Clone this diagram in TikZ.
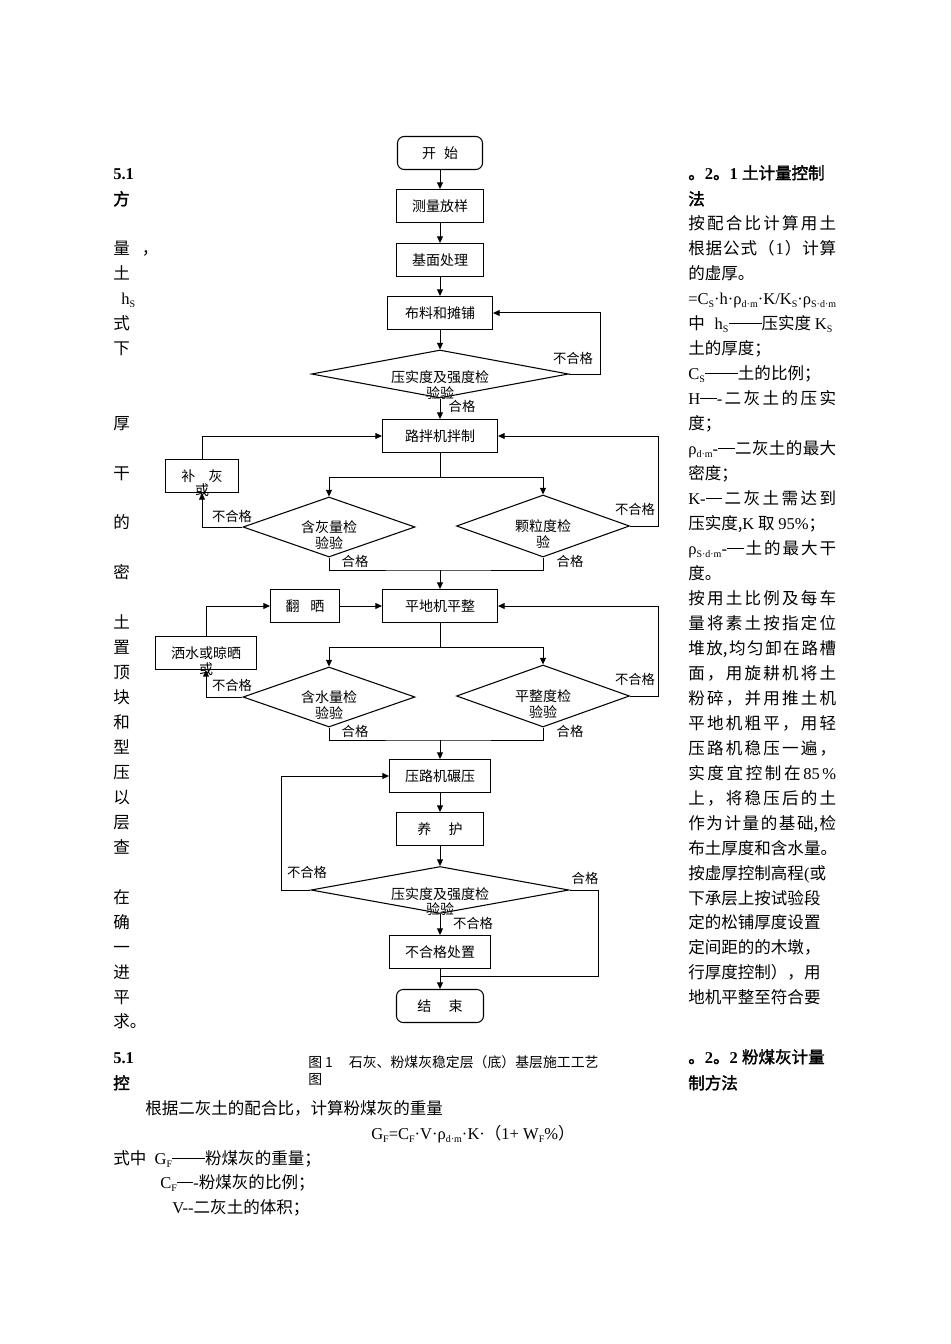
\documentclass[tikz,border=0pt]{standalone}
\usepackage{fontspec}
\setmainfont{Noto Sans CJK SC}
\newfontfamily\lat{Liberation Serif}
\newfontfamily\cjkb{Noto Sans CJK SC}[FakeBold=2]
\usetikzlibrary{arrows.meta,shapes.geometric,positioning}

\newcommand\pxu{0.75pt}
\newcommand\body{\fontsize{12.4}{15}\selectfont}
\newcommand\flw{\fontsize{10.5}{11.6}\selectfont}
\newcommand\lbl{\fontsize{10}{11}\selectfont}
\newcommand\capf{\fontsize{10.4}{11}\selectfont}
\newcommand\sbs[1]{\raisebox{-0.4ex}{\lat\fontsize{7.5}{8}\selectfont #1}}
\newcommand\La[1]{{\lat #1}}
\newcommand\pct{{\lat\%}}
\newcommand\emd{\raisebox{0.32em}{\rule{1em}{0.55pt}}}
\def\spr#1#2\relax{#1\if\relax\detokenize{#2}\relax\else\hfill\spr#2\relax\fi}
\newcommand\spread[1]{\makebox[111pt][s]{\spr#1\relax}}

\begin{document}
\begin{tikzpicture}[x=0.75pt, y=-0.75pt,
	box/.style={draw, line width=0.8pt, minimum height=33*\pxu, inner sep=1pt, font=\flw},
	term/.style={box, rounded corners=5pt},
	chk/.style={diamond, draw, line width=0.8pt, inner sep=0pt},
	chktext/.style={font=\flw, align=center, inner sep=0pt},
	arr/.style={line width=0.75pt, -{Triangle[length=5pt,width=4.5pt]}},
	ln/.style={line width=0.75pt},
	tag/.style={font=\lbl, inner sep=0pt},
	txt/.style={anchor=base west, yshift=-4.6pt, inner sep=0pt, font=\body}]

	\useasboundingbox (0,0) rectangle (950,1344);

	\node[term, minimum width=85*\pxu] (start) at (440,153) {开\hspace{6pt}始};
	\node[box, minimum width=87*\pxu] (survey) at (440,206) {测量放样};
	\node[box, minimum width=87*\pxu] (base) at (440,260) {基面处理};
	\node[box, minimum width=105*\pxu] (spread) at (440,313) {布料和摊铺};
	\node[chk, minimum width=257*\pxu, minimum height=48*\pxu,
		label={[chktext, name=chk1t, yshift=-8.2pt]center:{压实度及强度检\\验验}}] (chk1) at (440,374) {};

	\node[box, minimum width=115*\pxu] (mix) at (440,436) {路拌机拌制};
	\node[chk, minimum width=172*\pxu, minimum height=60*\pxu,
		label={[chktext, name=asht, yshift=-6pt]center:{含灰量检\\验验}}] (ash) at (329,527) {};
	\node[chk, minimum width=173*\pxu, minimum height=62*\pxu,
		label={[chktext, name=graint, yshift=-6pt]center:{颗粒度检\\验}}] (grain) at (543,526) {};
	\node[box, minimum width=73*\pxu,
		label={[chktext, name=buhuit, yshift=-11pt]center:或}] (buhui) at (202,476) {补\hspace{10pt}灰};

	\node[box, minimum width=115*\pxu] (level) at (440,606) {平地机平整};
	\node[box, minimum width=69*\pxu] (fanshai) at (305,606) {翻\hspace{8pt}晒};
	\node[box, minimum width=101*\pxu,
		label={[chktext, name=sashuit, yshift=-12pt]center:或}] (sashui) at (206,653) {洒水或晾晒};
	\node[chk, minimum width=172*\pxu, minimum height=60*\pxu,
		label={[chktext, name=watert, yshift=-6pt]center:{含水量检\\验验}}] (water) at (329,697) {};
	\node[chk, minimum width=173*\pxu, minimum height=62*\pxu,
		label={[chktext, name=flatt, yshift=-6pt]center:{平整度检\\验验}}] (flat) at (543,696) {};

	\node[box, minimum width=101*\pxu] (roll) at (440,776) {压路机碾压};
	\node[box, minimum width=87*\pxu] (cure) at (440,829) {养\hspace{13pt}护};
	\node[chk, minimum width=258*\pxu, minimum height=47*\pxu,
		label={[chktext, name=chk2t, yshift=-8.6pt]center:{压实度及强度检\\验验}}] (chk2) at (440,890) {};
	\node[box, minimum width=101*\pxu] (fail) at (440,952) {不合格处置};
	\node[term, minimum width=87*\pxu] (finish) at (440,1006) {结\hspace{13pt}束};

	\coordinate (j1) at (440,477);
	\coordinate (j2) at (440,570);
	\coordinate (j3) at (440,647);
	\coordinate (j4) at (440,740);
	\coordinate (j5) at (440,976);

	\draw[arr] (start) -- (survey);
	\draw[arr] (survey) -- (base);
	\draw[arr] (base) -- (spread);
	\draw[arr] (spread) -- (chk1);
	\draw[arr] (chk1.east) -- ++(31,0) |- (spread.east);
	\draw[arr] (chk1) -- (mix);
	\draw[ln] (mix) -- (j1);
	\draw[arr] (j1) -| (ash.north);
	\draw[arr] (j1) -| (grain.north);
	\draw[arr] (ash.west) -| (buhui.south);
	\draw[arr] (buhui.north) |- (mix.west);
	\draw[arr] (grain.east) -- ++(28,0) |- (mix.east);
	\draw[ln] (ash.south) |- (j2) -| (grain.south);
	\draw[arr] (j2) -- (level);

	\draw[ln] (level) -- (j3);
	\draw[arr] (j3) -| (water.north);
	\draw[arr] (j3) -| (flat.north);
	\draw[arr] (water.west) -| (sashui.south);
	\draw[arr] (sashui.north) |- (fanshai.west);
	\draw[arr] (fanshai) -- (level);
	\draw[arr] (flat.east) -- ++(28,0) |- (level.east);
	\draw[ln] (water.south) |- (j4) -| (flat.south);
	\draw[arr] (j4) -- (roll);

	\draw[arr] (roll) -- (cure);
	\draw[arr] (cure) -- (chk2);
	\draw[arr] (chk2.west) -- ++(-29,0) |- (roll.west);
	\draw[arr] (chk2) -- (fail);
	\draw[ln] (chk2.east) -- ++(29,0) |- (j5);
	\draw[arr] (fail) -- (finish);

	\foreach \x/\y/\t [count=\i] in {573/358/不合格, 462/406/合格, 232/516/不合格, 635/509/不合格,
		355/561/合格, 570/561/合格, 232/685/不合格, 635/679/不合格, 355/731/合格, 570/731/合格,
		307/872/不合格, 585/878/合格, 473/923/不合格}
		\node[tag] (tag\i) at (\x,\y) {\t};

	\node[txt] (lh1) at (113,173) {\lat\bfseries 5.1};
	\node[txt] (lh2) at (113,199) {\cjkb 方};
	\foreach \y/\c in {248/{量\hspace{9pt}，}, 273/土, 298/{\hspace{6pt}{\lat h}\sbs{S}}, 323/式, 348/下,
		423/厚, 473/干, 522/的, 572/密, 622/土, 647/置, 672/顶, 697/块, 722/和, 747/型, 772/压,
		797/以, 822/层, 847/查, 897/在, 922/确, 947/一, 972/进, 997/平, 1021/求。}
		\node[txt] (l\y) at (113,\y) {\c};
	\node[txt] (lh3) at (113,1057) {\lat\bfseries 5.1};
	\node[txt] (lh4) at (113,1083) {\cjkb 控};

	\node[txt] (r1) at (688,173) {{\cjkb 。}{\lat\bfseries 2}{\cjkb 。}{\lat\bfseries 1 }{\cjkb 土计量控制}};
	\node[txt] (r2) at (688,199) {\cjkb 法};
	\node[txt] (r3) at (688,223) {\spread{按配合比计算用土}};
	\node[txt] (r4) at (688,248) {\spread{根据公式（{\La{1}}）计算}};
	\node[txt] (r5) at (688,273) {的虚厚。};
	\node[txt] (r6) at (688,298) {{\lat =C}\sbs{S}{\lat ·h·ρ}\sbs{d·m}{\lat ·K/K}\sbs{S}{\lat ·ρ}\sbs{S·d·m}};
	\node[txt] (r7) at (688,323) {中\hspace{0.6em}{\lat h}\sbs{S}\emd\emd 压实度 {\lat K}\sbs{S}};
	\node[txt] (r8) at (688,348) {土的厚度；};
	\node[txt] (r9) at (688,373) {{\lat C}\sbs{S}\emd\emd 土的比例；};
	\node[txt] (r10) at (688,398) {\spread{{\La{H}\emd\La{-}}二灰土的压实}};
	\node[txt] (r11) at (688,423) {度；};
	\node[txt] (r12) at (688,448) {\spread{{\La{ρ}\sbs{d·m}\La{-}\emd}二灰土的最大}};
	\node[txt] (r13) at (688,473) {密度；};
	\node[txt] (r14) at (688,498) {\spread{{\La{K-}\emd}二灰土需达到}};
	\node[txt] (r15) at (688,523) {压实度,{\lat K} 取 {\lat 95\%}；};
	\node[txt] (r16) at (688,548) {\spread{{\La{ρ}\sbs{S·d·m}\La{-}\emd}土的最大干}};
	\node[txt] (r17) at (688,573) {度。};
	\node[txt] (r18) at (688,598) {\spread{按用土比例及每车}};
	\node[txt] (r19) at (688,623) {\spread{量将素土按指定位}};
	\node[txt] (r20) at (688,648) {\spread{堆{放,}均匀卸在路槽}};
	\node[txt] (r21) at (688,673) {\spread{面，用旋耕机将土}};
	\node[txt] (r22) at (688,698) {\spread{粉碎，并用推土机}};
	\node[txt] (r23) at (688,723) {\spread{平地机粗平，用轻}};
	\node[txt] (r24) at (688,748) {\spread{压路机稳压一遍，}};
	\node[txt] (r25) at (688,773) {\spread{实度宜控制在{\La{85}}\pct}};
	\node[txt] (r26) at (688,798) {\spread{上，将稳压后的土}};
	\node[txt] (r27) at (688,823) {\spread{作为计量的基{础,}检}};
	\node[txt] (r28) at (688,848) {布土厚度和含水量。};
	\node[txt] (r29) at (688,873) {按虚厚控制高程{\lat (}或};
	\node[txt] (r30) at (688,898) {下承层上按试验段};
	\node[txt] (r31) at (688,922) {定的松铺厚度设置};
	\node[txt] (r32) at (688,947) {定间距的的木墩，};
	\node[txt] (r33) at (688,972) {行厚度控制），用};
	\node[txt] (r34) at (688,997) {地机平整至符合要};
	\node[txt] (r35) at (688,1057) {{\cjkb 。}{\lat\bfseries 2}{\cjkb 。}{\lat\bfseries 2 }{\cjkb 粉煤灰计量}};
	\node[txt] (r36) at (688,1083) {\cjkb 制方法};

	\node[txt, font=\capf, yshift=1pt] (cap1) at (308,1063) {图 1\hspace{12pt}石灰、粉煤灰稳定层（底）基层施工工艺};
	\node[txt, font=\capf, yshift=1pt] (cap2) at (308,1080) {图};

	\node[txt] (b1) at (145,1108) {根据二灰土的配合比，计算粉煤灰的重量};
	\node[txt] (b2) at (371,1133) {{\lat G}\sbs{F}{\lat =C}\sbs{F}{\lat ·V·ρ}\sbs{d·m}{\lat ·K·}（{\lat 1+ W}\sbs{F}{\lat \%}）};
	\node[txt] (b3) at (113,1158) {式中\hspace{0.5em}{\lat G}\sbs{F}\emd\emd 粉煤灰的重量；};
	\node[txt] (b4) at (160,1182) {{\lat C}\sbs{F}\emd{\lat -}粉煤灰的比例；};
	\node[txt] (b5) at (172,1207) {{\lat V-{}-}二灰土的体积；};
\end{tikzpicture}
\end{document}
